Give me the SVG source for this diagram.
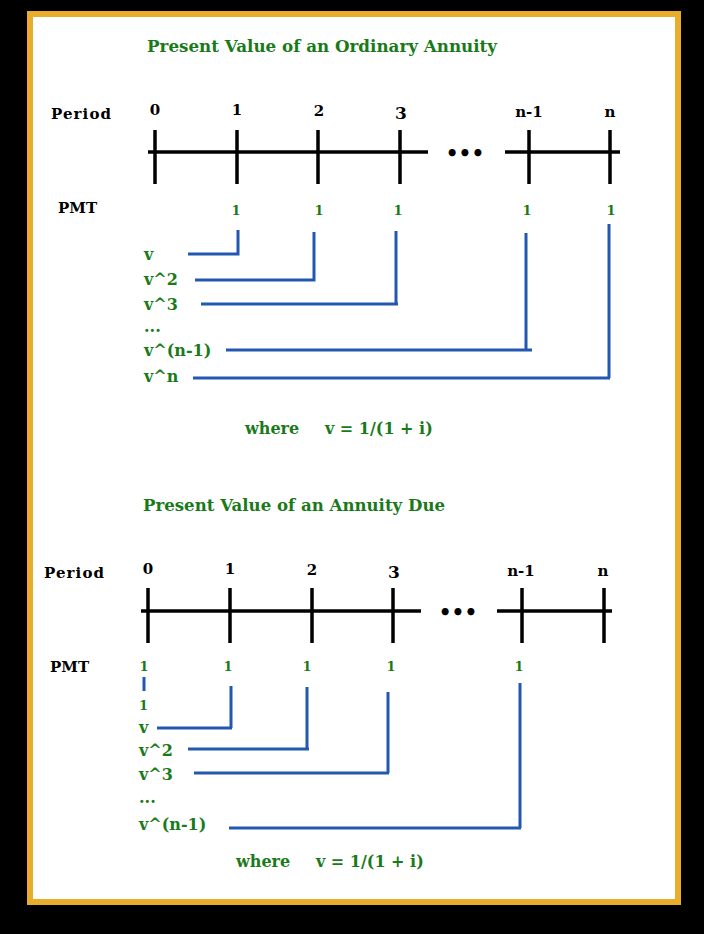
<svg xmlns="http://www.w3.org/2000/svg" width="704" height="934" viewBox="0 0 704 934">
<style>
text{font-family:"DejaVu Serif","Liberation Serif",serif;font-weight:bold}
.k{fill:#000;font-size:15px}
.g{fill:#1a7a1a;font-size:16px}
.s{fill:#1a7a1a;font-size:13px}
.t{fill:#1a7a1a;font-size:16.5px}
.ax line{stroke:#000;stroke-width:3.5}
.c{stroke:#2358b0;stroke-width:3;fill:none}
</style>
<rect width="704" height="934" fill="#000"/>
<rect x="30" y="14" width="648" height="888" fill="#fff" stroke="#e8ad2a" stroke-width="6"/>
<g id="top">
<text class="t" x="147" y="52" textLength="350" lengthAdjust="spacingAndGlyphs">Present Value of an Ordinary Annuity</text>
<text class="k" x="51" y="119" textLength="60">Period</text>
<g class="k" text-anchor="middle"><text x="155" y="115">0</text><text x="237" y="115">1</text><text x="319" y="116">2</text><text x="401" y="119" style="font-size:17px">3</text><text x="529" y="117">n-1</text><text x="610" y="117">n</text></g>
<g class="ax"><line x1="148" y1="152" x2="428" y2="152"/><line x1="505" y1="152" x2="620" y2="152"/>
<line x1="155" y1="130" x2="155" y2="184"/><line x1="237" y1="130" x2="237" y2="184"/><line x1="318" y1="130" x2="318" y2="184"/><line x1="400" y1="130" x2="400" y2="184"/><line x1="529" y1="130" x2="529" y2="184"/><line x1="610" y1="130" x2="610" y2="184"/></g>
<text class="k" x="465" y="160" text-anchor="middle" style="font-size:20px">•••</text>
<text class="k" x="58" y="213">PMT</text>
<g class="s" text-anchor="middle"><text x="236" y="215">1</text><text x="319" y="215">1</text><text x="398" y="215">1</text><text x="527" y="215">1</text><text x="611" y="215">1</text></g>
<g class="g"><text x="144" y="260">v</text><text x="144" y="285">v^2</text><text x="144" y="310">v^3</text><text x="144" y="332">...</text><text x="144" y="356">v^(n-1)</text><text x="144" y="382">v^n</text></g>
<text class="g" x="245" y="434">where</text><text class="g" x="325" y="434">v = 1/(1 + i)</text>
</g>
<g id="bottom">
<text class="t" x="143" y="511" textLength="302" lengthAdjust="spacingAndGlyphs">Present Value of an Annuity Due</text>
<text class="k" x="44" y="578" textLength="60">Period</text>
<g class="k" text-anchor="middle"><text x="148" y="574">0</text><text x="230" y="574">1</text><text x="312" y="575">2</text><text x="394" y="578" style="font-size:17px">3</text><text x="521" y="576">n-1</text><text x="603" y="576">n</text></g>
<g class="ax"><line x1="141" y1="611" x2="421" y2="611"/><line x1="497" y1="611" x2="612" y2="611"/>
<line x1="148" y1="588" x2="148" y2="643"/><line x1="230" y1="588" x2="230" y2="643"/><line x1="312" y1="588" x2="312" y2="643"/><line x1="393" y1="588" x2="393" y2="643"/><line x1="522" y1="588" x2="522" y2="643"/><line x1="604" y1="588" x2="604" y2="643"/></g>
<text class="k" x="458" y="619" text-anchor="middle" style="font-size:20px">•••</text>
<text class="k" x="50" y="672">PMT</text>
<g class="s" text-anchor="middle"><text x="144" y="671">1</text><text x="228" y="671">1</text><text x="307" y="671">1</text><text x="391" y="671">1</text><text x="519" y="671">1</text></g>
<g class="g"><text x="139" y="710" style="font-size:13px">1</text><text x="139" y="733">v</text><text x="139" y="756">v^2</text><text x="139" y="780">v^3</text><text x="139" y="803">...</text><text x="139" y="830">v^(n-1)</text></g>
<text class="g" x="236" y="867">where</text><text class="g" x="316" y="867">v = 1/(1 + i)</text>
</g>
<g id="connectors" class="c">
<polyline points="188,254 238,254 238,230"/>
<polyline points="195,280 314,280 314,232"/>
<polyline points="201,304 398,304 396,304 396,231"/>
<polyline points="226,350 532,350 526,350 526,233"/>
<polyline points="193,378 610,378 609,378 609,224"/>
<line x1="144" y1="677" x2="144" y2="691"/>
<polyline points="157,728 232,728 231,728 231,686"/>
<polyline points="188,749 309,749 307,749 307,687"/>
<polyline points="194,773 389,773 388,773 388,692"/>
<polyline points="229,828 521,828 520,828 520,683"/>
</g>
</svg>
